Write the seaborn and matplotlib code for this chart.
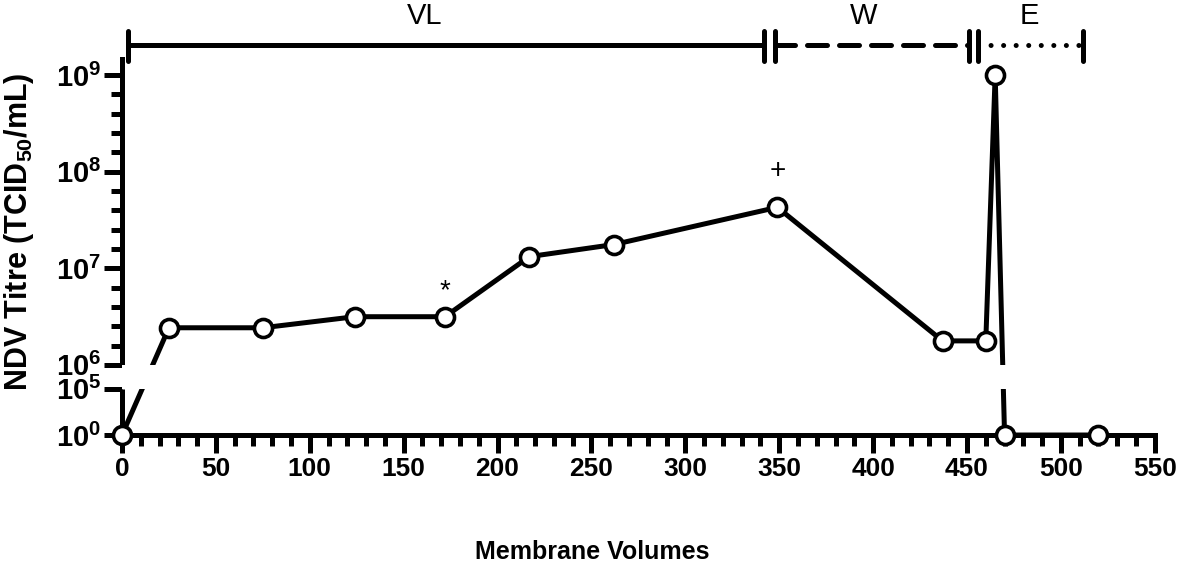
import numpy as np
import matplotlib
matplotlib.use("Agg")
import matplotlib.pyplot as plt
import seaborn as sns

# membrane volumes and NDV titres (TCID50/mL)
volumes = [0, 25, 75, 124, 172, 217, 262, 349, 437, 460, 465, 470, 520]
titres = [1, 2.42e6, 2.42e6, 3.15e6, 3.15e6, 1.32e7, 1.76e7, 4.27e7,
          1.77e6, 1.77e6, 1.0e9, 1, 1]

# process phases shown above the plot
phase_names = ["VL", "W", "E"]
phase_start = [3, 348, 456]
phase_end = [342, 451, 512]
phase_label_x = [161, 395, 483]

# point annotations
note_x = [172, 349]
note_y = [3.15e6, 4.27e7]
note_text = ["*", "+"]

y_major = [1, 1e5, 1e6, 1e7, 1e8, 1e9]
y_major_labels = ["$10^{0}$", "$10^{5}$", "$10^{6}$", "$10^{7}$", "$10^{8}$", "$10^{9}$"]
x_major = list(range(0, 551, 50))

# broken log axis: lower 0-5 decades squeezed, gap, then 6-9 decades
LOW = 0.0955   # scale units per decade below 1e5
GAP = 0.249    # size of the 1e5..1e6 break


def fwd(y):
    L = np.log10(np.clip(np.asarray(y, dtype=float), 1e-300, None))
    return np.where(L <= 5, L * LOW,
                    np.where(L < 6, 5 * LOW + (L - 5) * GAP, 5 * LOW + GAP + (L - 6)))


def inv(v):
    v = np.asarray(v, dtype=float)
    L = np.where(v <= 5 * LOW, v / LOW,
                 np.where(v < 5 * LOW + GAP, 5 + (v - 5 * LOW) / GAP, 6 + v - 5 * LOW - GAP))
    return 10 ** L


sns.set_theme(style="ticks")
plt.rcParams["font.family"] = ["Liberation Sans", "DejaVu Sans"]
plt.rcParams["mathtext.fontset"] = "custom"
plt.rcParams["mathtext.rm"] = "Liberation Sans:bold"
plt.rcParams["mathtext.it"] = "Liberation Sans:bold"
plt.rcParams["mathtext.bf"] = "Liberation Sans:bold"
for key in ["text.color", "axes.labelcolor", "xtick.color", "ytick.color", "axes.edgecolor"]:
    plt.rcParams[key] = "black"

LW = 3.6
fig = plt.figure(figsize=(11.81, 5.70), dpi=100)
ax = fig.add_axes([0.1033, 0.2368, 0.8745, 0.6597])

sns.lineplot(x=volumes, y=titres, ax=ax, color="black", lw=LW,
             marker="o", markersize=13, markerfacecolor="white",
             markeredgecolor="black", markeredgewidth=2.6,
             clip_on=False, zorder=4, sort=False)

ax.set_yscale("function", functions=(fwd, inv))
ax.set_ylim(1, 10 ** 9.166)
ax.set_xlim(0, 550)

# white band hides the line where it crosses the axis break
ax.axhspan(1e5, 1e6, color="white", zorder=5, lw=0)

# axes styling
for s in ["top", "right"]:
    ax.spines[s].set_visible(False)
ax.spines["bottom"].set_linewidth(LW)
ax.spines["left"].set_linewidth(LW)
ax.spines["left"].set_bounds(1e6, 10 ** 9.166)
ax.vlines(0, 1, 1e5, color="black", lw=LW, clip_on=False, zorder=3)

ax.set_yticks(y_major)
ax.set_yticklabels(y_major_labels)
minor = [10 ** (d + k / 5) for d in range(6, 9) for k in range(1, 5)]
ax.set_yticks(minor, minor=True)
ax.set_xticks(x_major)
ax.set_xticks(range(0, 551, 10), minor=True)
ax.tick_params(axis="both", which="major", length=13, width=LW, color="black", pad=3)
ax.tick_params(axis="y", which="major", labelsize=21, pad=2)
ax.tick_params(axis="x", which="major", labelsize=19)
ax.tick_params(axis="both", which="minor", length=8, width=LW, color="black")
for lab in ax.get_xticklabels():
    lab.set_fontweight("bold")

ax.set_xlabel("Membrane Volumes", fontsize=18, fontweight="bold")
ax.xaxis.set_label_coords(0.455, -0.279)
ax.set_ylabel("NDV Titre (TCID$_{50}$/mL)", fontsize=22, fontweight="bold")
ax.yaxis.set_label_coords(-0.083, 0.54)

# annotations above points
note_offset = [13, 21]
for x, y, t, off in zip(note_x, note_y, note_text, note_offset):
    ax.annotate(t, (x, y), xytext=(0, off), textcoords="offset points",
                ha="center", va="baseline", fontsize=20)

# phase bars at the top
tr = ax.get_xaxis_transform()
styles = ["-", (0, (4.0, 2.4)), (0, (0.01, 2.5))]
for name, x0, x1, lx, st in zip(phase_names, phase_start, phase_end, phase_label_x, styles):
    ax.plot([x0, x1], [1.037, 1.037], transform=tr, color="black", lw=LW,
            ls=st, dash_capstyle="round", clip_on=False)
    for xc in (x0, x1):
        ax.plot([xc, xc], [0.995, 1.075], transform=tr, color="black", lw=LW,
                solid_capstyle="round", clip_on=False)
    ax.text(lx, 1.115, name, transform=tr, ha="center", va="center", fontsize=21)

fig.savefig("out.png", dpi=100)
